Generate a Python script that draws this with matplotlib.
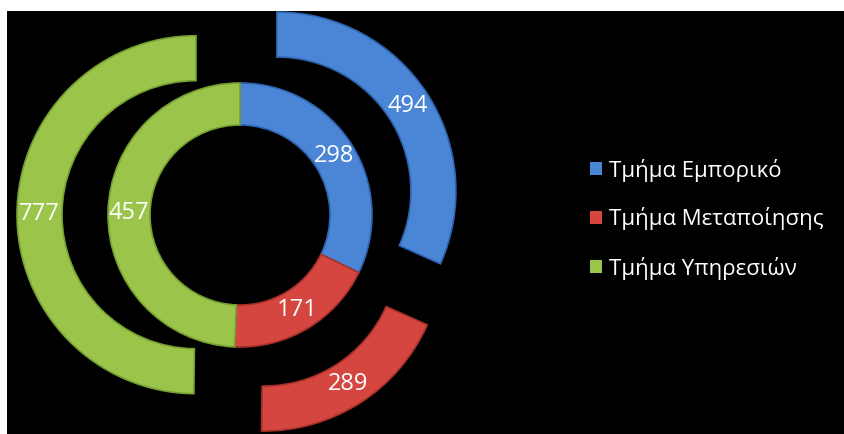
import numpy as np
import matplotlib
matplotlib.use("Agg")
import matplotlib.pyplot as plt
from matplotlib.patches import Rectangle

plt.rcParams['font.family'] = ['Open Sans', 'DejaVu Sans']

categories = ["Τμήμα Εμπορικό", "Τμήμα Μεταποίησης", "Τμήμα Υπηρεσιών"]
inner_values = [298, 171, 457]
outer_values = [494, 289, 777]
colors = ["#4A85D6", "#D4463F", "#9BC54A"]
edge_colors = ["#2F64B0", "#A8302B", "#76A032"]

W, H = 844, 434
fig = plt.figure(figsize=(W / 100, H / 100), dpi=100, facecolor="white")
ax = fig.add_axes([0, 0, 1, 1])
ax.set_facecolor("white")

# black chart area with a thin white margin at left and top
ax.add_patch(Rectangle((7, 0), W - 7, H - 11, facecolor="black", edgecolor="none", zorder=0))

center = (240, 219)

inner_wedges, _ = ax.pie(inner_values, radius=132, center=center, startangle=90,
                         counterclock=False, colors=colors,
                         wedgeprops=dict(width=42, linewidth=1.2))
outer_wedges, _ = ax.pie(outer_values, radius=179, center=center, startangle=90,
                         counterclock=False, colors=colors, explode=[44, 44, 44],
                         wedgeprops=dict(width=45, linewidth=1.2))

for wedges, values in ((inner_wedges, inner_values), (outer_wedges, outer_values)):
    for w, v, ec in zip(wedges, values, edge_colors):
        w.set_edgecolor(ec)
        w.set_zorder(2)
        theta = np.deg2rad((w.theta1 + w.theta2) / 2)
        r = w.r - w.width / 2
        cx, cy = w.center
        ax.text(cx + r * np.cos(theta), cy + r * np.sin(theta), str(v),
                color="white", fontsize=17, ha="center", va="center", zorder=3)

leg = ax.legend(inner_wedges, categories, loc="center left",
                bbox_to_anchor=(590 / W, 1 - 219 / H), bbox_transform=fig.transFigure,
                frameon=False, fontsize=16, labelcolor="white", borderpad=0,
                borderaxespad=0, handlelength=0.55, handleheight=0.55,
                handletextpad=0.3, labelspacing=1.17)
for h in leg.legend_handles:
    h.set_linewidth(0)

ax.set_xlim(0, W)
ax.set_ylim(0, H)
ax.set_aspect("equal")
ax.axis("off")

fig.savefig("out.png", dpi=100, facecolor="white")
